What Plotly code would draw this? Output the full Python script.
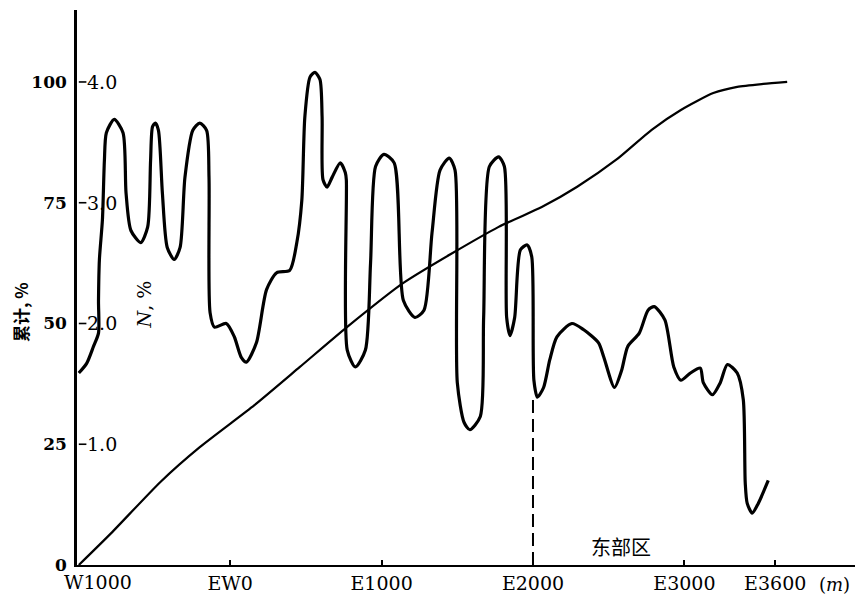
import plotly.graph_objects as go

# N, % curve (distance in m, W negative / E positive; N in %)
n_x = [-1000, -948, -903, -870, -870, -864, -844, -831, -818, -766, -708, -688, -656, -591,
       -545, -526, -513, -494, -474, -448, -416, -370, -331, -299, -247, -201, -156, -140,
       -133, -104, -26, 27, 73, 107, 173, 240, 307, 393, 440, 473, 493, 527, 560, 593,
       607, 613, 640, 673, 727, 760, 767, 773, 827, 893, 927, 960, 1015, 1083, 1144,
       1220, 1280, 1333, 1386, 1447, 1485, 1500, 1545, 1583, 1652, 1674, 1712, 1773,
       1811, 1826, 1848, 1879, 1917, 1962, 1992, 2006, 2029, 2070, 2111, 2158, 2257,
       2333, 2433, 2468, 2538, 2585, 2626, 2702, 2760, 2801, 2871, 2930, 2977, 3040,
       3105, 3125, 3185, 3237, 3284, 3349, 3389, 3402, 3415, 3448, 3488, 3554]
n_val = [1.59, 1.67, 1.81, 1.92, 2.19, 2.53, 2.86, 3.35, 3.58, 3.69, 3.58, 3.08, 2.77, 2.67,
         2.80, 3.35, 3.63, 3.66, 3.60, 3.08, 2.63, 2.53, 2.63, 3.21, 3.60, 3.66, 3.60, 3.21,
         2.09, 1.97, 2.00, 1.89, 1.72, 1.68, 1.84, 2.28, 2.42, 2.44, 2.67, 3.02, 3.71, 4.04,
         4.08, 4.02, 3.71, 3.19, 3.13, 3.21, 3.33, 3.25, 3.19, 1.78, 1.64, 1.78, 2.50, 3.30,
         3.40, 3.33, 2.19, 2.05, 2.11, 2.75, 3.27, 3.37, 3.27, 1.51, 1.18, 1.12, 1.23, 2.05,
         3.30, 3.38, 3.30, 2.05, 1.90, 2.05, 2.61, 2.65, 2.55, 1.53, 1.39, 1.47, 1.70, 1.89,
         2.00, 1.95, 1.84, 1.72, 1.47, 1.61, 1.81, 1.92, 2.11, 2.14, 2.03, 1.64, 1.53, 1.59,
         1.63, 1.51, 1.41, 1.51, 1.66, 1.59, 1.37, 0.68, 0.51, 0.43, 0.51, 0.70]

# cumulative, % curve
cum_x = [-1000, -786, -461, -201, 160, 460, 773, 1144, 1773, 2058, 2292, 2550, 2784, 2977,
         3191, 3349, 3521, 3679]
cum_val = [0, 6.6, 17.2, 24.4, 33.1, 41.0, 49.3, 58.4, 70.0, 74.1, 78.3, 83.9, 90.1, 94.2,
           97.7, 99.0, 99.6, 100]

# boundary of the eastern zone
boundary_x = [2000, 2000]
boundary_n = [0, 1.40]

x_tickvals = [-1000, 0, 1000, 2000, 3000, 3600]
x_ticktext = ["W1000", "EW0", "E1000", "E2000", "E3000", "E3600"]
y1_tickvals = [0, 25, 50, 75, 100]
y1_ticktext = ["0", "25", "50", "75", "100"]
y2_tickvals = [1.0, 2.0, 3.0, 4.0]
y2_ticktext = ["1.0", "2.0", "3.0", "4.0"]

SERIF = "DejaVu Serif"
CJK = "Noto Sans CJK SC"

fig = go.Figure()
fig.add_trace(go.Scatter(x=cum_x, y=cum_val, mode="lines",
                         line=dict(color="black", width=2.2, shape="spline", smoothing=0.6),
                         yaxis="y", showlegend=False))
fig.add_trace(go.Scatter(x=n_x, y=n_val, mode="lines",
                         line=dict(color="black", width=3.2, shape="spline", smoothing=0.7),
                         yaxis="y2", showlegend=False))
fig.add_trace(go.Scatter(x=boundary_x, y=boundary_n, mode="lines",
                         line=dict(color="black", width=2, dash="13px,6px"),
                         yaxis="y2", showlegend=False))

# short tick dashes just inside the left axis, one per labelled value
tick_x, tick_y = [], []
for v in y1_tickvals[1:]:
    tick_x += [x_tickvals[0], x_tickvals[0] + 50, None]
    tick_y += [v, v, None]
fig.add_trace(go.Scatter(x=tick_x, y=tick_y, mode="lines",
                         line=dict(color="black", width=1.6),
                         yaxis="y", showlegend=False, hoverinfo="skip"))

annotations = [
    # first x tick label (at the axis origin) drawn as text so it is not hidden
    dict(text=x_ticktext[0], xref="x", yref="paper", x=x_tickvals[0], y=0,
         xanchor="left", yanchor="top", xshift=-17, yshift=-4, showarrow=False,
         font=dict(family=SERIF, size=19, color="black")),
    dict(text="累计, %", xref="paper", yref="paper", x=-0.072, y=0.455,
         xanchor="center", yanchor="middle", textangle=-90, showarrow=False,
         font=dict(family=CJK, size=17, color="black", weight="bold")),
    dict(text="<i>N</i>, %", xref="paper", yref="paper", x=0.086, y=0.47,
         xanchor="center", yanchor="middle", textangle=-90, showarrow=False,
         font=dict(family=SERIF, size=19, color="black")),
    dict(text="东部区", xref="x", yref="paper", x=2580, y=0.033,
         xanchor="center", yanchor="middle", showarrow=False,
         font=dict(family=CJK, size=20, color="black")),
    dict(text="(<i>m</i>)", xref="x", yref="paper", x=3990, y=-0.012,
         xanchor="center", yanchor="top", showarrow=False,
         font=dict(family=SERIF, size=18, color="black")),
]
# N, % scale labels, just inside the left axis
for v, t in zip(y2_tickvals, y2_ticktext):
    annotations.append(dict(text=t, xref="paper", yref="y2", x=0, y=v,
                            xanchor="left", yanchor="middle", xshift=9, borderpad=0,
                            showarrow=False,
                            font=dict(family=SERIF, size=19, color="black")))

fig.update_layout(
    width=855, height=594,
    margin=dict(l=69, r=3, t=2, b=37),
    paper_bgcolor="white", plot_bgcolor="white",
    font=dict(family=SERIF, color="black", size=17),
    xaxis=dict(range=[-1012, 4160], showgrid=False, zeroline=False,
               showline=True, linecolor="black", linewidth=2,
               tickvals=x_tickvals[1:], ticktext=x_ticktext[1:],
               ticks="inside", ticklen=5, tickwidth=1.5, tickcolor="black",
               tickfont=dict(family=SERIF, size=19, color="black")),
    yaxis=dict(range=[0, 114.9], showgrid=False, zeroline=False,
               showline=True, linecolor="black", linewidth=2.5,
               tickvals=y1_tickvals, ticktext=y1_ticktext, ticks="",
               ticklabelstandoff=4,
               tickfont=dict(family=SERIF, size=17, color="black", weight="bold")),
    yaxis2=dict(range=[0, 114.9 / 25], overlaying="y", side="left", showgrid=False,
                zeroline=False, showline=False, showticklabels=False, ticks=""),
    annotations=annotations,
)

fig.write_html("out.html")
